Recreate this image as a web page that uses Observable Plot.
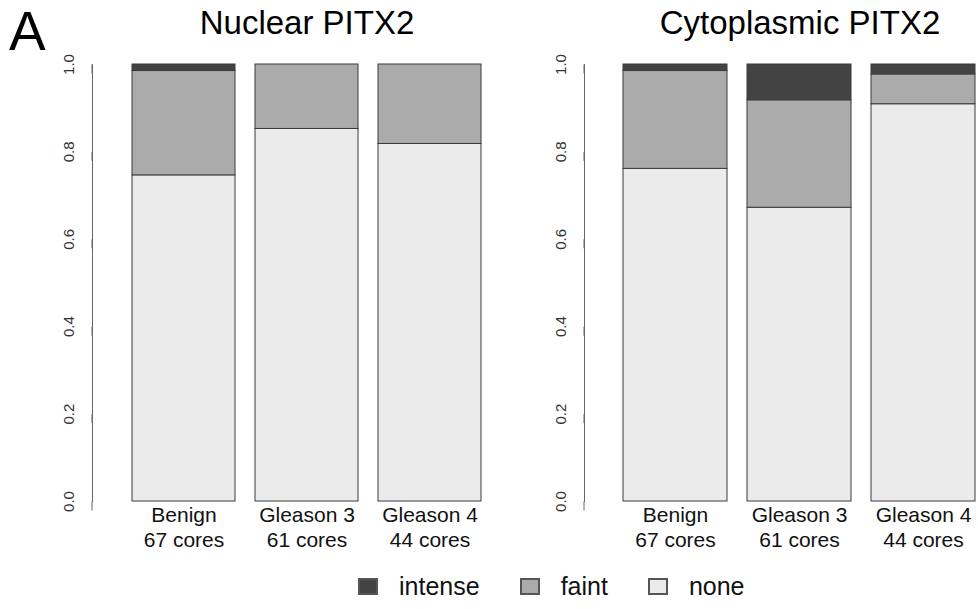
<!DOCTYPE html>
<html><head><meta charset="utf-8">
<script src="https://cdn.jsdelivr.net/npm/d3@7"></script>
<script src="https://cdn.jsdelivr.net/npm/@observablehq/plot@0.6"></script>
<style>
body{margin:0;background:#fff;font-family:"Liberation Sans",Arial,sans-serif;}
#wrap{position:relative;width:978px;height:609px;overflow:hidden;background:#fff;}
#left,#right{position:absolute;top:0;width:489px;}
#left{left:0}#right{left:489px}
#A{position:absolute;left:9px;top:-2px;font-size:55px;line-height:1.2;color:#000;}
#legend{position:absolute;left:358px;top:574px;display:flex;align-items:center;font-size:25px;color:#111;line-height:1;}
.item{display:flex;align-items:center;margin-right:40px;}
.sw{width:20px;height:17px;margin-right:21px;box-sizing:border-box;border:2px solid #555;}
</style></head>
<body><div id="wrap"><div id="left"></div><div id="right"></div><div id="A">A</div>
<div id="legend"></div></div>
<script>
const categories = ["Benign", "Gleason 3", "Gleason 4"];
const cores = [67, 61, 44];
const levels = ["none", "faint", "intense"];
const legendOrder = ["intense", "faint", "none"];
const colors = ["#ebebeb", "#ababab", "#434343"];
const nuclearNone = [50, 52, 36];
const nuclearFaint = [16, 9, 8];
const nuclearIntense = [1, 0, 0];
const cytoNone = [51, 41, 40];
const cytoFaint = [15, 15, 3];
const cytoIntense = [1, 5, 1];
const yTicks = [0, 0.2, 0.4, 0.6, 0.8, 1.0];
const titles = ["Nuclear PITX2", "Cytoplasmic PITX2"];

function rows(none, faint, intense) {
  const out = [];
  categories.forEach((c, i) => {
    out.push({cat: c, level: "none", n: none[i]});
    out.push({cat: c, level: "faint", n: faint[i]});
    out.push({cat: c, level: "intense", n: intense[i]});
  });
  return out;
}
const font = '"Liberation Sans", Arial, sans-serif';
function panel(title, data, mL, mR) {
  return Plot.plot({
    width: 489, height: 565, marginTop: 64, marginBottom: 64, marginLeft: mL, marginRight: mR,
    style: {fontFamily: font, background: "white", color: "#111"},
    x: {domain: categories, paddingInner: 0.16, paddingOuter: 0, axis: null},
    y: {domain: [0, 1], axis: null},
    color: {domain: levels, range: colors},
    marks: [
      Plot.barY(data, {x: "cat", y: "n", fill: "level", offset: "normalize", stroke: "#3a3a3a", strokeWidth: 1}),
      Plot.axisY({ticks: yTicks, tickFormat: d3.format(".1f"), tickSize: 9, tickPadding: 10, rotate: -90, label: null,
        textAnchor: "middle", lineAnchor: "bottom", dx: -39, fontSize: 15, stroke: "#666", fill: "#333"}),
      Plot.frame({anchor: "left", dx: -39, stroke: "#666"}),
      Plot.axisX({tickSize: 0, tickPadding: 3, fontSize: 21, lineHeight: 1.19, fill: "#111", label: null,
        tickFormat: d => `${d}\n${cores[categories.indexOf(d)]} cores`}),
      Plot.text([title], {frameAnchor: "top", dy: -31, lineAnchor: "bottom", fontSize: 33, fill: "#000"})
    ]
  });
}
document.getElementById("left").append(panel(titles[0], rows(nuclearNone, nuclearFaint, nuclearIntense), 131, 7));
document.getElementById("right").append(panel(titles[1], rows(cytoNone, cytoFaint, cytoIntense), 134, 2));

const lg = document.getElementById("legend");
legendOrder.forEach(l => {
  const it = document.createElement("div"); it.className = "item";
  const sw = document.createElement("div"); sw.className = "sw";
  sw.style.background = colors[levels.indexOf(l)];
  const tx = document.createElement("span"); tx.textContent = l;
  it.append(sw, tx); lg.append(it);
});
</script></body></html>
